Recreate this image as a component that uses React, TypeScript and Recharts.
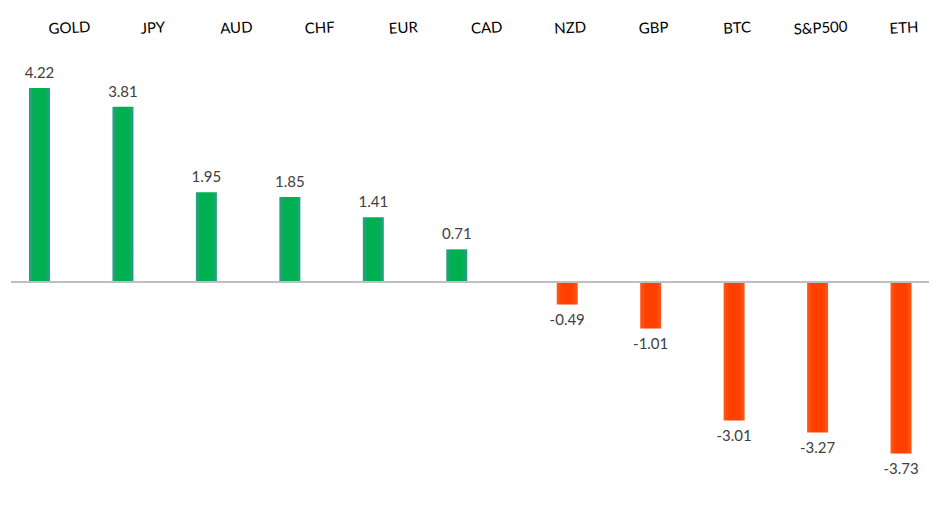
import React from 'react';
import { BarChart, Bar, XAxis, YAxis, ReferenceLine, LabelList } from 'recharts';

const categories = ['GOLD', 'JPY', 'AUD', 'CHF', 'EUR', 'CAD', 'NZD', 'GBP', 'BTC', 'S&P500', 'ETH'];
const values = [4.22, 3.81, 1.95, 1.85, 1.41, 0.71, -0.49, -1.01, -3.01, -3.27, -3.73];

const data = categories.map((name, i) => ({
  name,
  gain: values[i] > 0 ? values[i] : null,
  loss: values[i] < 0 ? values[i] : null,
}));

const FONT = 'Lato, "Liberation Sans", sans-serif';

const TopTick = (props: any) => {
  const { x, payload } = props;
  const tx = x + 17;
  const ty = 25;
  return (
    <text
      x={tx}
      y={ty}
      textAnchor="middle"
      fontFamily={FONT}
      fontSize={15}
      fill="#000000"
      transform={`rotate(-3, ${tx}, ${ty})`}
    >
      {payload.value}
    </text>
  );
};

const fmt = (v: any) => (v == null ? '' : Number(v).toFixed(2));

export default function App() {
  return (
    <BarChart
      width={944}
      height={490}
      data={data}
      margin={{ top: 37, right: 23, bottom: 32, left: 3 }}
      barSize={21}
      barGap={6}
    >
      <defs>
        <linearGradient id="gGreen" x1="0" y1="0" x2="1" y2="0">
          <stop offset="0%" stopColor="#2a9f86" />
          <stop offset="25%" stopColor="#00b050" />
          <stop offset="75%" stopColor="#00b050" />
          <stop offset="100%" stopColor="#2a9f86" />
        </linearGradient>
        <linearGradient id="gRed" x1="0" y1="0" x2="1" y2="0">
          <stop offset="0%" stopColor="#ff5a1a" />
          <stop offset="25%" stopColor="#ff4000" />
          <stop offset="75%" stopColor="#ff4000" />
          <stop offset="100%" stopColor="#ff5a1a" />
        </linearGradient>
      </defs>
      <XAxis
        dataKey="name"
        orientation="top"
        height={30}
        axisLine={false}
        tickLine={false}
        interval={0}
        tick={<TopTick />}
      />
      <YAxis hide domain={[-4, 4.5]} allowDataOverflow />
      <Bar dataKey="gain" fill="url(#gGreen)" isAnimationActive={false}>
        <LabelList
          dataKey="gain"
          position="top"
          offset={10}
          formatter={fmt}
          fontFamily={FONT}
          fontSize={15}
          fill="#404040"
        />
      </Bar>
      <Bar dataKey="loss" fill="url(#gRed)" isAnimationActive={false}>
        <LabelList
          dataKey="loss"
          position="top"
          offset={10}
          formatter={fmt}
          fontFamily={FONT}
          fontSize={15}
          fill="#404040"
        />
      </Bar>
      <ReferenceLine y={0} stroke="#bfbfbf" strokeWidth={2} />
    </BarChart>
  );
}
